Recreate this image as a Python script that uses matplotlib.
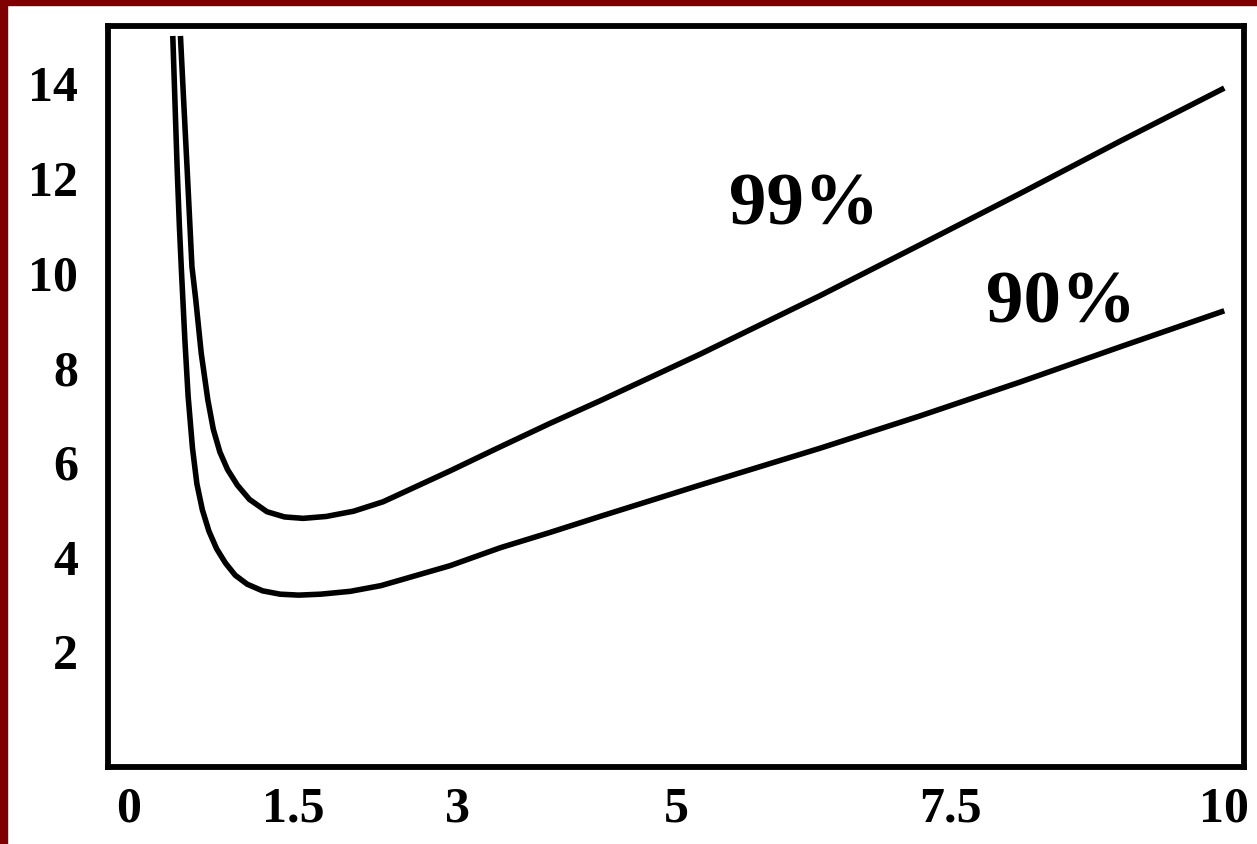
import matplotlib
matplotlib.use("Agg")
import matplotlib.pyplot as plt
from matplotlib.patches import Rectangle

# courbes (x, y)
x_99 = [0.47, 0.50, 0.53, 0.575, 0.61, 0.66, 0.72, 0.77, 0.83, 0.90, 0.99, 1.10, 1.26, 1.42, 1.59,
        1.80, 2.05, 2.32, 2.63, 2.93, 3.39, 3.84, 4.30, 5.21, 6.31, 7.22, 8.14, 9.05, 10.0]
y_99 = [15.0, 13.6, 12.24, 10.13, 9.43, 8.30, 7.32, 6.70, 6.22, 5.85, 5.52, 5.22, 4.96, 4.85, 4.82,
        4.86, 4.97, 5.17, 5.50, 5.82, 6.33, 6.82, 7.30, 8.28, 9.52, 10.59, 11.68, 12.78, 13.90]

x_90 = [0.40, 0.42, 0.44, 0.46, 0.48, 0.51, 0.54, 0.58, 0.62, 0.67, 0.73, 0.80, 0.88, 0.97, 1.08,
        1.22, 1.38, 1.55, 1.75, 2.02, 2.30, 2.63, 2.93, 3.39, 3.84, 4.30, 5.21, 6.31, 7.22, 8.14,
        9.05, 10.0]
y_90 = [15.0, 13.6, 12.2, 11.0, 10.0, 8.6, 7.4, 6.3, 5.55, 5.0, 4.55, 4.18, 3.88, 3.62, 3.43,
        3.29, 3.22, 3.20, 3.22, 3.28, 3.40, 3.62, 3.82, 4.20, 4.52, 4.86, 5.52, 6.30, 6.98, 7.70,
        8.44, 9.20]

x_ticks = [0, 1.5, 3, 5, 7.5, 10]
x_tick_labels = ['0', '1.5', '3', '5', '7.5', '10']
y_ticks = [2, 4, 6, 8, 10, 12, 14]
y_tick_labels = ['2', '4', '6', '8', '10', '12', '14']

labels = ['99%', '90%']
label_pos = [(6.16, 11.41), (8.51, 9.33)]

plt.rcParams['font.family'] = ['Liberation Serif', 'DejaVu Serif']
plt.rcParams['font.weight'] = 'bold'

W, H = 1257, 844
fig = plt.figure(figsize=(W / 100, H / 100), dpi=100)
fig.patch.set_facecolor('white')

# cadre rouge fonce a gauche et en haut
fig.patches.append(Rectangle((0, 0), 7 / W, 1, transform=fig.transFigure, color='#7f0000', zorder=0))
fig.patches.append(Rectangle((0, 1 - 5 / H), 1, 5 / H, transform=fig.transFigure, color='#7f0000', zorder=0))

ax = fig.add_axes([107.5 / W, 1 - 767 / H, (1244 - 107.5) / W, (767 - 26) / H])
ax.plot(x_99, y_99, color='black', lw=4.0, solid_capstyle='butt', solid_joinstyle='round')
ax.plot(x_90, y_90, color='black', lw=4.0, solid_capstyle='butt', solid_joinstyle='round')

for lab, (tx, ty) in zip(labels, label_pos):
    ax.text(tx, ty, lab, fontsize=54, fontweight='bold', ha='center', va='center')

ax.set_xlim(-0.196, 10.18)
ax.set_ylim(-0.427, 15.21)
ax.set_xticks(x_ticks)
ax.set_xticklabels(x_tick_labels)
ax.set_yticks(y_ticks)
ax.set_yticklabels(y_tick_labels)
ax.tick_params(axis='both', length=0, labelsize=36)
ax.tick_params(axis='x', pad=14)
ax.tick_params(axis='y', pad=21)
for s in ax.spines.values():
    s.set_linewidth(4.2)
    s.set_color('black')

fig.savefig('out.png', dpi=100)
